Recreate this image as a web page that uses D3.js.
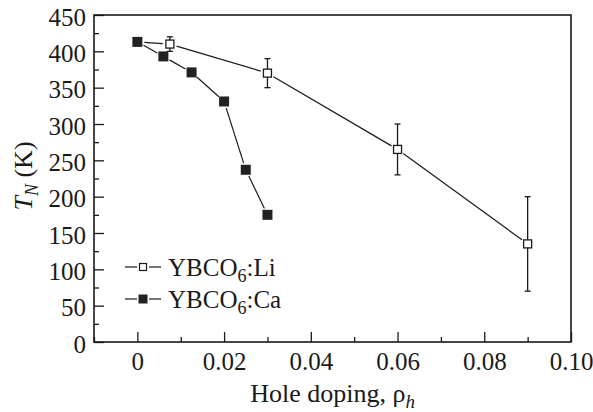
<html>
<head>
<style>
body {
  margin: 0;
  background: white;
}

svg {
  display: block;
}

text {
  font-family: "Liberation Serif", "Times New Roman", serif;
  fill: #1a1a1a;
}
</style>
</head>
<body>
<script type="text/javascript" src="https://cdnjs.cloudflare.com/ajax/libs/d3/7.8.5/d3.min.js"></script>
<script type="text/javascript">
// YBCO6:Li (open squares, with error bars)
var liDoping = [0, 0.0075, 0.03, 0.06, 0.09]
var liTN = [413, 410, 370, 265, 135]
var liErr = [0, 10, 20, 35, 65]

// YBCO6:Ca (filled squares)
var caDoping = [0, 0.006, 0.0125, 0.02, 0.025, 0.03]
var caTN = [413, 393, 371, 331, 237, 175]

var xTicks = [0, 0.02, 0.04, 0.06, 0.08, 0.10]
var xMinor = [-0.01, 0.01, 0.03, 0.05, 0.07, 0.09]
var yTicks = [0, 50, 100, 150, 200, 250, 300, 350, 400, 450]
var yMinor = [25, 75, 125, 175, 225, 275, 325, 375, 425]

var width = 593,
    height = 412,
    plotLeft = 94,
    plotRight = 571,
    plotTop = 15,
    plotBottom = 342,
    ink = "#1a1a1a";

var svg = d3.select("body")
  .append("svg")
  .attr("width", width)
  .attr("height", height)

var x = d3.scaleLinear().domain([-0.01, 0.10]).range([plotLeft, plotRight])
var y = d3.scaleLinear().domain([0, 450]).range([plotBottom, plotTop])

function styleAxis(g) {
  g.select(".domain").remove()
  g.selectAll("line").attr("stroke", ink).attr("stroke-width", 1.3)
  g.selectAll("text")
    .style("font-family", '"Liberation Serif", serif')
    .style("font-size", "25px")
    .attr("fill", ink)
}

// major + minor ticks, pointing inward
svg.append("g")
  .attr("transform", "translate(0 " + plotBottom + ")")
  .call(d3.axisBottom(x).tickValues(xTicks).tickSize(-10).tickPadding(10)
    .tickFormat(function(d) { return d === 0 ? "0" : d3.format(".2f")(d) }))
  .call(styleAxis)

svg.append("g")
  .attr("transform", "translate(0 " + plotBottom + ")")
  .call(d3.axisBottom(x).tickValues(xMinor).tickSize(-5).tickFormat(""))
  .call(styleAxis)

svg.append("g")
  .attr("transform", "translate(" + plotLeft + " 0)")
  .call(d3.axisLeft(y).tickValues(yTicks).tickSize(-10).tickPadding(8))
  .call(styleAxis)
  .selectAll("text").attr("dy", "0.4em")

svg.append("g")
  .attr("transform", "translate(" + plotLeft + " 0)")
  .call(d3.axisLeft(y).tickValues(yMinor).tickSize(-5).tickFormat(""))
  .call(styleAxis)

svg.append("rect")
  .attr("x", plotLeft)
  .attr("y", plotTop)
  .attr("width", plotRight - plotLeft)
  .attr("height", plotBottom - plotTop)
  .attr("fill", "none")
  .attr("stroke", ink)
  .attr("stroke-width", 1.6)

// axis titles
svg.append("text")
  .attr("x", (plotLeft + plotRight) / 2)
  .attr("y", 402)
  .attr("text-anchor", "middle")
  .style("font-size", "26px")
  .html('Hole doping, ρ<tspan dy="6" font-size="19px" font-style="italic">h</tspan>')

svg.append("text")
  .attr("transform", "translate(32 176) rotate(-90)")
  .attr("text-anchor", "middle")
  .style("font-size", "26px")
  .html('<tspan font-style="italic">T</tspan><tspan dy="6" font-size="18px" font-style="italic">N</tspan><tspan dy="-6">  (K)</tspan>')

// lines with small gaps at the markers
function gapLine(xs, ys, gap) {
  var pts = xs.map(function(d, i) { return [x(d), y(ys[i])] })
  var segs = []
  for (var i = 0; i < pts.length - 1; i++) {
    var a = pts[i], b = pts[i + 1]
    var dx = b[0] - a[0], dy = b[1] - a[1]
    var len = Math.sqrt(dx * dx + dy * dy)
    var ux = dx / len, uy = dy / len
    segs.push([a[0] + ux * gap, a[1] + uy * gap, b[0] - ux * gap, b[1] - uy * gap])
  }
  return segs
}

svg.append("g").selectAll("line")
  .data(gapLine(liDoping, liTN, 7))
  .enter().append("line")
  .attr("x1", function(d) { return d[0] })
  .attr("y1", function(d) { return d[1] })
  .attr("x2", function(d) { return d[2] })
  .attr("y2", function(d) { return d[3] })
  .attr("stroke", ink)
  .attr("stroke-width", 1.2)

svg.append("g").selectAll("line")
  .data(gapLine(caDoping, caTN, 7))
  .enter().append("line")
  .attr("x1", function(d) { return d[0] })
  .attr("y1", function(d) { return d[1] })
  .attr("x2", function(d) { return d[2] })
  .attr("y2", function(d) { return d[3] })
  .attr("stroke", ink)
  .attr("stroke-width", 1.2)

// error bars
var liData = liDoping.map(function(d, i) { return { x: d, t: liTN[i], e: liErr[i] } })
  .filter(function(d) { return d.e > 0 })

var err = svg.append("g").selectAll("g")
  .data(liData)
  .enter().append("g")
  .attr("stroke", ink)
  .attr("stroke-width", 1.3)

err.append("line")
  .attr("x1", function(d) { return x(d.x) })
  .attr("x2", function(d) { return x(d.x) })
  .attr("y1", function(d) { return y(d.t + d.e) })
  .attr("y2", function(d) { return y(d.t - d.e) })

err.append("line")
  .attr("x1", function(d) { return x(d.x) - 3 })
  .attr("x2", function(d) { return x(d.x) + 3 })
  .attr("y1", function(d) { return y(d.t + d.e) })
  .attr("y2", function(d) { return y(d.t + d.e) })

err.append("line")
  .attr("x1", function(d) { return x(d.x) - 3 })
  .attr("x2", function(d) { return x(d.x) + 3 })
  .attr("y1", function(d) { return y(d.t - d.e) })
  .attr("y2", function(d) { return y(d.t - d.e) })

// markers
var openSize = 8,
    filledSize = 10;

svg.append("g").selectAll("rect")
  .data(liData)
  .enter().append("rect")
  .attr("x", function(d) { return x(d.x) - openSize / 2 })
  .attr("y", function(d) { return y(d.t) - openSize / 2 })
  .attr("width", openSize)
  .attr("height", openSize)
  .attr("fill", "white")
  .attr("stroke", ink)
  .attr("stroke-width", 1.3)

svg.append("g").selectAll("rect")
  .data(caDoping)
  .enter().append("rect")
  .attr("x", function(d) { return x(d) - filledSize / 2 })
  .attr("y", function(d, i) { return y(caTN[i]) - filledSize / 2 })
  .attr("width", filledSize)
  .attr("height", filledSize)
  .attr("fill", "#222")

// legend
var legend = [
  { name: "Li", filled: false, y: 267 },
  { name: "Ca", filled: true, y: 299 }
]

var items = svg.append("g").selectAll("g")
  .data(legend)
  .enter().append("g")
  .attr("transform", function(d) { return "translate(143 " + d.y + ")" })

items.append("line")
  .attr("x1", -18).attr("x2", -6)
  .attr("stroke", ink).attr("stroke-width", 1.2)

items.append("line")
  .attr("x1", 6).attr("x2", 18)
  .attr("stroke", ink).attr("stroke-width", 1.2)

items.append("rect")
  .attr("x", function(d) { return d.filled ? -4.5 : -3.5 })
  .attr("y", function(d) { return d.filled ? -4.5 : -3.5 })
  .attr("width", function(d) { return d.filled ? 9 : 7 })
  .attr("height", function(d) { return d.filled ? 9 : 7 })
  .attr("fill", function(d) { return d.filled ? "#222" : "white" })
  .attr("stroke", ink)
  .attr("stroke-width", function(d) { return d.filled ? 0 : 1.2 })

items.append("text")
  .attr("x", 25)
  .attr("y", 9)
  .style("font-size", "25px")
  .html(function(d) {
    return 'YBCO<tspan dy="6" font-size="18px">6</tspan><tspan dy="-6">:' + d.name + '</tspan>'
  })
</script>
</body>
</html>
